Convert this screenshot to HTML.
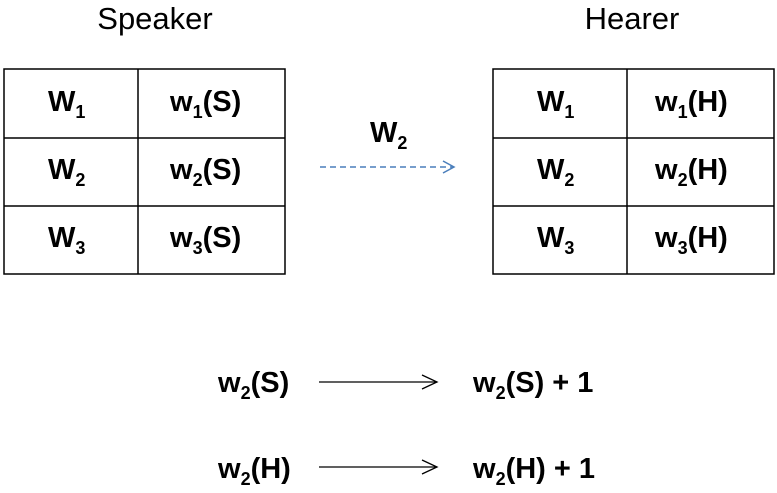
<!DOCTYPE html>
<html><head><style>
html,body{margin:0;padding:0;background:#fff;}
svg{display:block;}
text{font-family:"Liberation Sans",sans-serif;}
.b{font-weight:bold;font-size:29px;}
.s{font-weight:bold;font-size:18px;}
</style></head><body>
<svg width="777" height="493" viewBox="0 0 777 493">
<text x="155" y="29" font-size="31" text-anchor="middle">Speaker</text>
<text x="632" y="29" font-size="31" text-anchor="middle">Hearer</text>
<g fill="none" stroke="#000" stroke-width="1.5">
<rect x="4" y="69" width="281" height="205"/>
<line x1="138" y1="69" x2="138" y2="274"/>
<line x1="4" y1="138" x2="285" y2="138"/>
<line x1="4" y1="206" x2="285" y2="206"/>
<rect x="493" y="69" width="281" height="205"/>
<line x1="627" y1="69" x2="627" y2="274"/>
<line x1="493" y1="138" x2="774" y2="138"/>
<line x1="493" y1="206" x2="774" y2="206"/>
</g>
<g class="b">
<text x="48" y="111">W<tspan class="s" dy="7">1</tspan></text>
<text x="48" y="179">W<tspan class="s" dy="7">2</tspan></text>
<text x="48" y="247">W<tspan class="s" dy="7">3</tspan></text>
<text x="170" y="111">w<tspan class="s" dy="7">1</tspan><tspan dy="-7">(S)</tspan></text>
<text x="170" y="179">w<tspan class="s" dy="7">2</tspan><tspan dy="-7">(S)</tspan></text>
<text x="170" y="247">w<tspan class="s" dy="7">3</tspan><tspan dy="-7">(S)</tspan></text>
<text x="537" y="111">W<tspan class="s" dy="7">1</tspan></text>
<text x="537" y="179">W<tspan class="s" dy="7">2</tspan></text>
<text x="537" y="247">W<tspan class="s" dy="7">3</tspan></text>
<text x="655" y="111">w<tspan class="s" dy="7">1</tspan><tspan dy="-7">(H)</tspan></text>
<text x="655" y="179">w<tspan class="s" dy="7">2</tspan><tspan dy="-7">(H)</tspan></text>
<text x="655" y="247">w<tspan class="s" dy="7">3</tspan><tspan dy="-7">(H)</tspan></text>
<text x="370" y="142">W<tspan class="s" dy="7">2</tspan></text>
<text x="218" y="392">w<tspan class="s" dy="7">2</tspan><tspan dy="-7">(S)</tspan></text>
<text x="473" y="392">w<tspan class="s" dy="7">2</tspan><tspan dy="-7">(S) + 1</tspan></text>
<text x="218" y="478">w<tspan class="s" dy="7">2</tspan><tspan dy="-7">(H)</tspan></text>
<text x="473" y="478">w<tspan class="s" dy="7">2</tspan><tspan dy="-7">(H) + 1</tspan></text>
</g>
<g stroke="#4a7ebb" stroke-width="1.5" fill="none">
<line x1="320" y1="167" x2="453" y2="167" stroke-dasharray="6,4"/>
<polyline points="443,161 454,167 443,173"/>
</g>
<g stroke="#000" stroke-width="1.3" fill="none">
<line x1="319" y1="382" x2="437" y2="382"/>
<polyline points="422,375 437,382 422,389"/>
<line x1="319" y1="467" x2="437" y2="467"/>
<polyline points="422,460 437,467 422,474"/>
</g>
</svg>
</body></html>
